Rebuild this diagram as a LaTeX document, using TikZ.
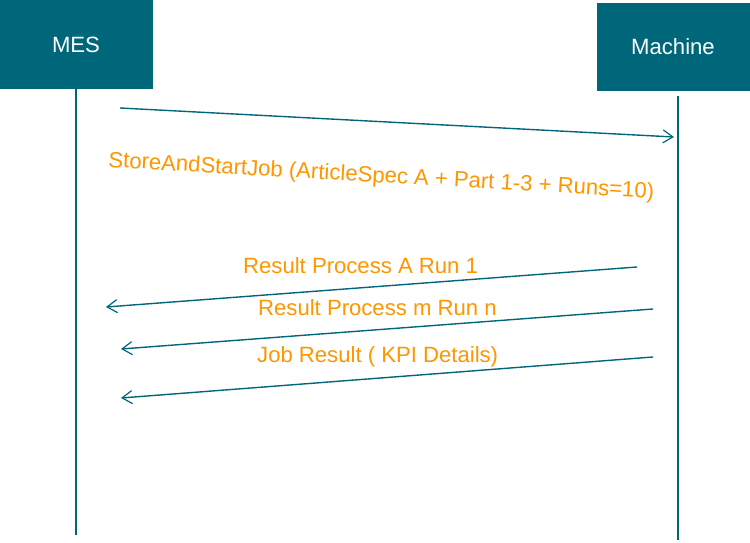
\documentclass[tikz,border=0pt]{standalone}
\usepackage{fontspec}
\setmainfont{Liberation Sans}
\usetikzlibrary{arrows.meta}
\definecolor{teal}{RGB}{0,102,122}
\definecolor{msgorange}{RGB}{255,150,0}
\tikzset{
  actor/.style={fill=teal, draw=none, text=white, font=\fontsize{22.2}{26}\selectfont},
  lifeline/.style={draw=teal, line width=2.6bp},
  msg/.style={draw=teal, line width=1.4bp, -{Straight Barb[length=10bp,width=13bp,line width=1.2bp]}},
  msglabel/.style={text=msgorange, font=\fontsize{22.2}{26}\selectfont, inner sep=0pt, anchor=base west},
}
\begin{document}
\begin{tikzpicture}[x=1bp,y=-1bp]
\useasboundingbox (0,0) rectangle (750,543);
% actors
\fill[teal] (0,0) rectangle (153,89);
\node[actor] (mes) at (76,45) {MES};
\fill[teal] (597,3) rectangle (750,91);
\node[actor] (machine) at (673,47) {Machine};
% lifelines
\coordinate (mesTop) at (76,89);
\coordinate (mesBot) at (76,535);
\coordinate (macTop) at (678,96);
\coordinate (macBot) at (678,540);
\draw[lifeline] (mesTop) -- (mesBot);
\draw[lifeline] (macTop) -- (macBot);
% message end points
\coordinate (m1s) at (120,108);
\coordinate (m1e) at (674,137);
\coordinate (m2s) at (637,267);
\coordinate (m2e) at (106,307);
\coordinate (m3s) at (653,309);
\coordinate (m3e) at (121,349);
\coordinate (m4s) at (653,357);
\coordinate (m4e) at (121,398);
\draw[msg] (m1s) -- (m1e);
\draw[msg] (m2s) -- (m2e);
\draw[msg] (m3s) -- (m3e);
\draw[msg] (m4s) -- (m4e);
% labels
\node[msglabel, rotate=-3.3] (l1) at (108,167) {StoreAndStartJob (ArticleSpec A + Part 1-3 + Runs=10)};
\node[msglabel] (l2) at (243,274) {Result Process A Run 1};
\node[msglabel] (l3) at (258,315) {Result Process m Run n};
\node[msglabel] (l4) at (257,362) {Job Result ( KPI Details)};
\end{tikzpicture}
\end{document}
